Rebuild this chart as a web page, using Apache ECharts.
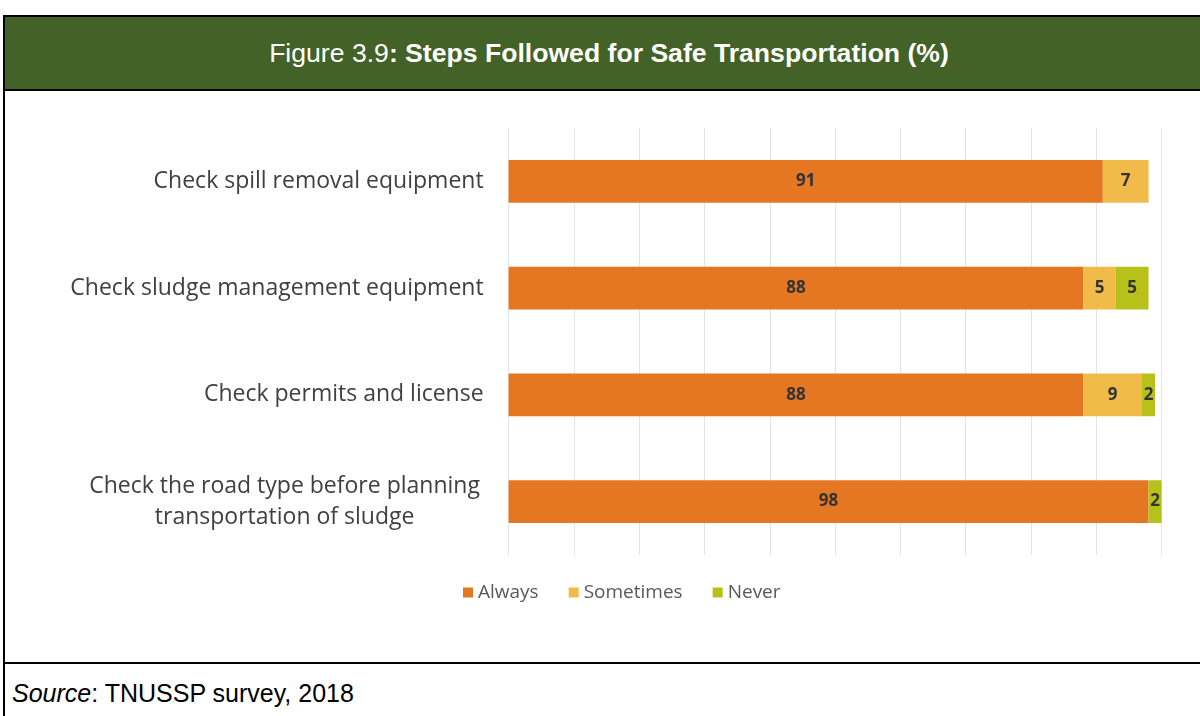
<!DOCTYPE html>
<html>
<head>
<meta charset="utf-8">
<script src="https://cdn.jsdelivr.net/npm/echarts@6/dist/echarts.min.js"></script>
<style>
  html, body { margin: 0; padding: 0; background: #fff; }
  #page { position: relative; width: 1200px; height: 716px; overflow: hidden; }
  #frame { position: absolute; left: 3px; top: 15px; width: 1200px; height: 720px; border: 2px solid #000; box-sizing: border-box; }
  #head { position: absolute; left: 0; top: 0; right: 0; height: 72px; background: #436228; border-bottom: 2px solid #000;
          color: #fff; font-family: "Liberation Sans", Arial, sans-serif; font-size: 26.6px; text-align: center; line-height: 72px;
          padding-left: 12px; }
  #sep { position: absolute; left: 0; right: 0; top: 645px; border-top: 2px solid #000; }
  #source { position: absolute; left: 7px; top: 662px; font-family: "Liberation Sans", Arial, sans-serif; font-size: 25px; color: #000; }
  #chart { position: absolute; left: 0; top: 0; width: 1200px; height: 716px; }
</style>
</head>
<body>
<div id="page">
  <div id="frame">
    <div id="head">Figure 3.9<b>: Steps Followed for Safe Transportation (%)</b></div>
    <div id="sep"></div>
    <div id="source"><i>Source</i>: TNUSSP survey, 2018</div>
  </div>
  <div id="chart"></div>
</div>
<script>
// chart data
const categories = [
  "Check spill removal equipment",
  "Check sludge management equipment",
  "Check permits and license",
  "Check the road type before planning\ntransportation of sludge"
];
const always = [91, 88, 88, 98];
const sometimes = [7, 5, 9, null];
const never = [null, 5, 2, 2];

const chart = echarts.init(document.getElementById("chart"));

const barLabel = {
  show: true,
  position: "inside",
  color: "#333",
  fontFamily: "Open Sans",
  fontWeight: "bold",
  fontSize: 17
};

function makeSeries(name, data, color) {
  return {
    name: name,
    type: "bar",
    stack: "total",
    data: data,
    barCategoryGap: "60%",
    itemStyle: { color: color },
    label: barLabel
  };
}

let option = {
  animation: false,
  grid: {
    left: 508.6,
    right: 38.4,
    top: 128,
    bottom: 161
  },
  legend: {
    left: 458,
    top: 578,
    itemWidth: 10,
    itemHeight: 10,
    itemGap: 30,
    icon: "rect",
    textStyle: { color: "#595959", fontSize: 19, fontFamily: "Open Sans" },
    data: ["Always", "Sometimes", "Never"]
  },
  xAxis: {
    type: "value",
    min: 0,
    max: 100,
    interval: 10,
    axisLabel: { show: false },
    axisLine: { show: false },
    axisTick: { show: false },
    splitLine: { lineStyle: { color: "#e4e4e4", width: 1 } }
  },
  yAxis: {
    type: "category",
    inverse: true,
    data: categories,
    axisLine: { show: false },
    axisTick: { show: false },
    axisLabel: {
      margin: 25,
      color: "#404040",
      fontFamily: "Open Sans",
      fontSize: 23,
      lineHeight: 31,
      formatter: function (v) {
        if (v.indexOf("\n") < 0) return v;
        return v.split("\n").map(s => "{c|" + s + "}").join("\n");
      },
      rich: {
        c: {
          width: 398,
          align: "center",
          color: "#404040",
          fontFamily: "Open Sans",
          fontSize: 23,
          lineHeight: 31
        }
      }
    }
  },
  series: [
    makeSeries("Always", always, "#e67722"),
    makeSeries("Sometimes", sometimes, "#f1bb4a"),
    makeSeries("Never", never, "#b6c11a")
  ]
};

chart.setOption(option);
</script>
</body>
</html>
